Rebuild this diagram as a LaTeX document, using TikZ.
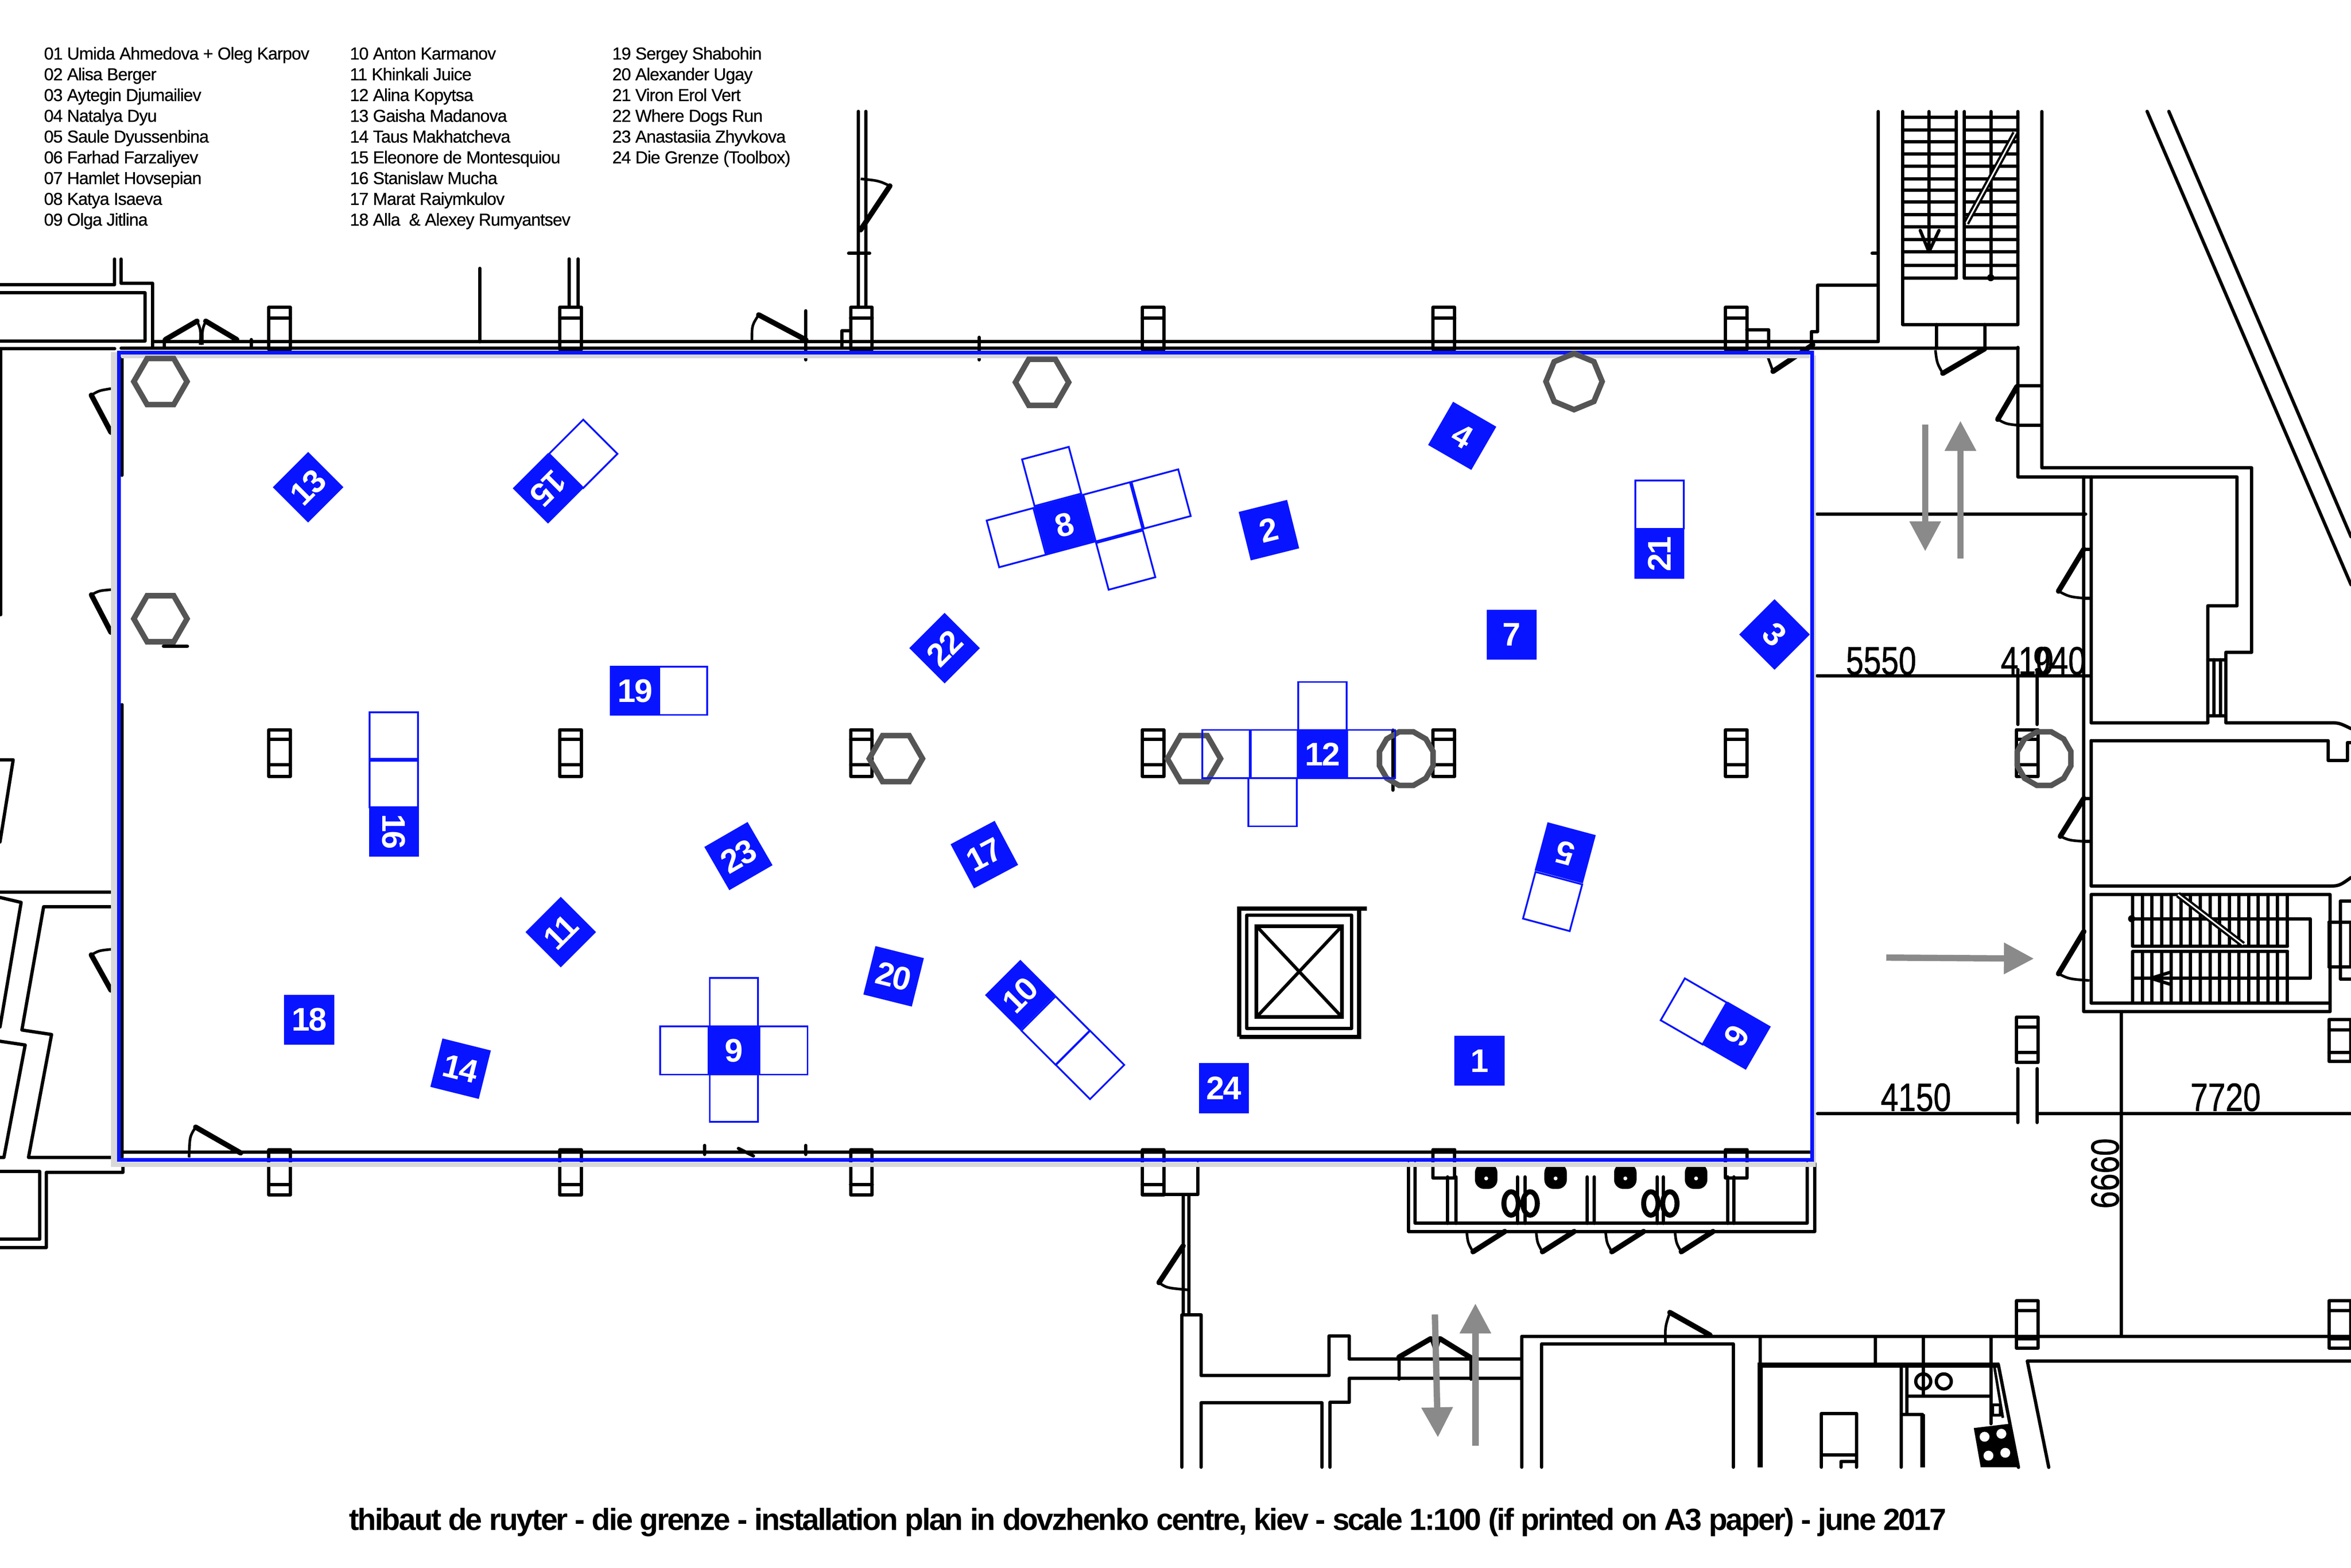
\documentclass[tikz,border=0pt]{standalone}
\usepackage{fontspec}
\setmainfont{Liberation Sans}[LetterSpace=-2.5]
\newfontfamily\namefont{Liberation Sans}[LetterSpace=-2.9,FakeBold=.5]
\newfontfamily\dimfont{Liberation Sans}[FakeBold=1]
\newfontfamily\tilefont{Liberation Sans Bold}[LetterSpace=-4]
\newfontfamily\captionfont{Liberation Sans Bold}[LetterSpace=-5.2]
\usetikzlibrary{shapes.geometric,arrows.meta}

\definecolor{tileblue}{RGB}{8,20,255}
\definecolor{shadowgrey}{RGB}{216,216,216}
\definecolor{postgrey}{RGB}{85,85,85}
\definecolor{pathgrey}{RGB}{138,138,138}

\tikzset{
	wall/.style={line width=1.25pt,line join=round,line cap=round},
	thinwall/.style={line width=1pt,line join=round},
	leaf/.style={line width=2pt,line cap=round},
	names/.style={anchor=base west,inner sep=0,font=\namefont\fontsize{6.58}{7}\selectfont},
	dimlabel/.style={inner sep=0,xscale=.8,font=\dimfont\fontsize{15}{15}\selectfont},
	tile/.style={fill=tileblue,text=white,minimum size=.666cm,inner sep=0,font=\tilefont\fontsize{12.4}{13}\selectfont},
	emptytile/.style={draw=tileblue,line width=.68pt,minimum size=.645cm,inner sep=0},
	hexpost/.style={draw=postgrey,line width=2.1pt,regular polygon,regular polygon sides=6,minimum size=.71cm,inner sep=0},
	octpost/.style={hexpost,regular polygon sides=8,shape border rotate=22.5,minimum size=.75cm},
	roundpost/.style={hexpost,regular polygon sides=12,minimum size=.74cm},
	route/.style={draw=pathgrey,line width=2.4pt,-{Triangle[length=.4cm,width=.4cm]}}
}

% door leaf and its swing
\newcommand{\doorswing}[4]{
	\draw[leaf] #1 -- #2;
	\draw[thinwall] #2 .. controls #3 .. #4;
}
% column seen from above
\newcommand{\pillar}[5]{
	\draw[wall] (#1-7.2,#2) rectangle (#1+7.2,#3);
	\draw[wall] (#1-7.2,#4) -- (#1+7.2,#4);
	\draw[wall] (#1-7.2,#5) -- (#1+7.2,#5);
}

\begin{document}
\begin{tikzpicture}[x=.02cm,y=-.02cm]
	\clip (0,0) rectangle (1568,1045.6);

	% columns
	\foreach \cx in {186.5,380.5,574.5,769,963,1158} {
		\pillar{\cx}{205}{233}{212}{212}
		\pillar{\cx}{486.7}{517.9}{493.2}{510}
	}
	\foreach \cx in {186.5,380.5,574.5,769} {
		\pillar{\cx}{767}{797}{790}{790}
	}
	\foreach \cx in {963,1158} {
		\pillar{\cx}{767}{785.7}{767}{767}
	}
	\pillar{1352}{486.7}{517.9}{493.2}{510}
	\pillar{1352}{678.4}{708.7}{685}{702}
	\pillar{1352}{867.7}{899.1}{874}{893}
	\pillar{1560.5}{680}{708}{687}{702}
	\pillar{1560.5}{867.7}{899.1}{874}{893}

	% top walls
	\draw[wall] (0,190) -- (76.4,190) -- (76.4,172.8);
	\draw[wall] (80.8,172.8) -- (80.8,189) -- (101.8,189) -- (101.8,232);
	\draw[wall] (0,195.3) -- (96.7,195.3) -- (96.7,227.4) -- (0,227.4);
	\draw[wall] (0,232.5) -- (76.5,232.5);
	\draw[wall] (.5,232.5) -- (.5,410);
	\draw[wall] (101.8,227.8) -- (1252.7,227.8);
	\draw[wall] (80.8,232.3) -- (1346,232.3);
	\draw[wall] (320,179) -- (320,228);
	\draw[wall] (379.5,172.7) -- (379.5,205);
	\draw[wall] (385.5,172.7) -- (385.5,205);
	\draw[wall] (572.5,74.3) -- (572.5,205);
	\draw[wall] (577.5,74.3) -- (577.5,205);
	\draw[wall] (566,169) -- (580,169);
	\draw[wall] (537.5,207.3) -- (537.5,240);
	\draw[wall] (561.5,232) -- (561.5,220.7) -- (567,220.7);
	\draw[wall] (653,225) -- (653,240);
	\draw[wall] (1165,220) -- (1179.5,220) -- (1179.5,232);
	\draw[wall] (109.5,226.5) -- (109.5,232);
	\draw[wall] (167.6,226.5) -- (167.6,232);
	\draw[wall] (929,487) -- (929,527);
	\draw[wall] (109,431) -- (125,431);
	\doorswing{(131.4,214.2)}{(110.3,226.5)}{(131.4,214.2)}{(110.3,226.5)}
	\doorswing{(137.2,214.2)}{(157.9,226.5)}{(137.2,214.2)}{(157.9,226.5)}
	\draw[thinwall] (131.4,214.2) .. controls (134,220) .. (133.5,230);
	\draw[thinwall] (137.2,214.2) .. controls (134.8,220) .. (135,230);
	\doorswing{(574,153.3)}{(593.5,124)}{(586,120.5)}{(574,119.3)}
	\doorswing{(537.5,226.7)}{(506,210)}{(501.5,217)}{(501.5,226.7)}
	\doorswing{(1209,230)}{(1182.5,247.7)}{(1180.5,243)}{(1179,238)}

	% right part, upper stair
	\draw[wall] (1252.7,74.4) -- (1252.7,227.3);
	\draw[wall] (1248.6,169) -- (1252.7,169);
	\draw[wall] (1252.7,190.2) -- (1212.3,190.2) -- (1212.3,221.1) -- (1208.2,221.1) -- (1208.2,231.7);
	\draw[wall] (1361.8,74.4) -- (1361.8,312) -- (1501.7,312) -- (1501.7,435.1) -- (1484.5,435.1) -- (1484.5,482.1) -- (1552.8,482.1) .. controls (1560,482.1) .. (1568,486);
	\draw[wall] (1345.9,231.7) -- (1345.9,318) -- (1492,318) -- (1492,404.1) -- (1472.4,404.1) -- (1472.4,482.1) -- (1394.7,482.1) -- (1394.7,318);
	\draw[wall] (1389.8,318) -- (1389.8,674.7) -- (1554,674.7) -- (1554,669);
	\draw[wall] (1268.9,74.4) -- (1268.9,216.4) -- (1345.9,216.4) -- (1345.9,74.4);
	\foreach \sy in {78.2,86.7,94.5,102.6,110.7,119.2,126.9,134.7,143,151.4,159.7,167.8,177,185.5} {
		\draw[wall] (1268.9,\sy) -- (1304.8,\sy);
		\draw[wall] (1310.2,\sy) -- (1345.9,\sy);
	}
	\draw[wall] (1304.8,74.4) -- (1304.8,185.5);
	\draw[wall] (1310.2,74.4) -- (1310.2,185.5);
	\draw[wall] (1286.5,74.4) -- (1286.5,168);
	\draw[wall] (1327.8,74.4) -- (1327.8,185.5);
	\fill (1327.7,185.2) circle (2.4);
	\draw[wall] (1280.7,153.7) -- (1286.5,168) -- (1293.2,153.7);
	\draw[line width=2.3pt] (1344,88.8) -- (1311.4,148.8);
	\draw[white,line width=.6pt] (1344,88.8) -- (1311.4,148.8);
	\draw[wall] (1291.6,216.4) -- (1291.6,232);
	\draw[wall] (1323.7,216.4) -- (1323.7,232);
	\doorswing{(1323.7,232.6)}{(1295.7,249)}{(1291.8,242)}{(1290.8,233.5)}
	\draw[wall] (1346,257.3) -- (1361.8,257.3);
	\draw[wall] (1346,283.7) -- (1361.8,283.7);
	\doorswing{(1345.2,257.8)}{(1332.4,279.7)}{(1338,282.8)}{(1346.4,283.7)}
	\draw[wall] (1432,74.3) -- (1568,390);
	\draw[wall] (1446.5,74.3) -- (1568,358);

	% right part, rooms
	\draw[wall] (1472.4,440) -- (1483.8,440);
	\draw[wall] (1472.4,477.5) -- (1483.8,477.5);
	\draw[wall] (1476.5,440) -- (1476.5,477.5);
	\draw[wall] (1480.8,440) -- (1480.8,477.5);
	\draw[wall] (1394.7,494) -- (1552.8,494) -- (1552.8,507.3) -- (1565.6,507.3) -- (1565.6,495.2) -- (1568,495.2);
	\draw[wall] (1394.7,494) -- (1394.7,591) -- (1551.6,591) .. controls (1560,591) .. (1568,585.3);
	\draw[wall] (1389.8,366.3) -- (1394.7,366.3);
	\draw[wall] (1389.8,399) -- (1394.7,399);
	\doorswing{(1389.8,366.3)}{(1372.9,394.3)}{(1380,398)}{(1389.8,399)}
	\draw[wall] (1389.8,532.5) -- (1394.7,532.5);
	\draw[wall] (1389.8,561.2) -- (1394.7,561.2);
	\doorswing{(1389.8,532.5)}{(1374.1,557.8)}{(1380,560.5)}{(1389.8,561.2)}
	\doorswing{(1389.8,621.3)}{(1372.9,649.5)}{(1380,653)}{(1393.5,654)}

	% right part, lower stair
	\draw[wall] (1394.7,596.7) rectangle (1554,669);
	\foreach \sx in {1422.4,1428.84,...,1526} {
		\draw[wall] (\sx,596.7) -- (\sx,631.1);
		\draw[wall] (\sx,634.6) -- (\sx,669);
	}
	\draw[wall] (1423,631.1) -- (1525.6,631.1);
	\draw[wall] (1423,634.6) -- (1525.6,634.6);
	\draw[wall] (1422.4,612.8) -- (1540.8,612.8) -- (1540.8,652.5) -- (1422.4,652.5);
	\fill (1421.7,612.8) circle (2.4);
	\draw[line width=2.3pt] (1452.6,596.7) -- (1496,630);
	\draw[white,line width=.6pt] (1452.6,596.7) -- (1496,630);
	\draw[wall] (1447.7,648.4) -- (1434.5,652.5) -- (1447.7,656.6);
	\pillar{1560.5}{615}{645}{615}{645}
	\draw[wall] (1561,601) -- (1568,601);
	\draw[wall] (1561,653) -- (1568,653);
	\draw[wall] (1561,601) -- (1561,653);

	% dimension lines
	\draw[wall] (1211.9,342.9) -- (1391,342.9);
	\draw[wall] (1211.9,450.7) -- (1394.7,450.7);
	\draw[wall] (1345.9,446.6) -- (1345.9,483.2);
	\draw[wall] (1358.5,446.6) -- (1358.5,483.2);
	\draw[wall] (1212.2,742.9) -- (1345.7,742.9);
	\draw[wall] (1358.6,742.9) -- (1568,742.9);
	\draw[wall] (1345.7,712.8) -- (1345.7,748.7);
	\draw[wall] (1358.6,712.8) -- (1358.6,748.7);
	\draw[wall] (1414.8,674.7) -- (1414.8,891.4);
	\node[dimlabel] (dimA) at (1254.6,440.8) {5550};
	\node[dimlabel] (dimB) at (1352,440.8) {410};
	\node[dimlabel] (dimC) at (1373.5,440.8) {940};
	\node[dimlabel] (dimD) at (1277.8,731.9) {4150};
	\node[dimlabel] (dimE) at (1484.3,731.9) {7720};
	\node[rotate=90,dimlabel] (dimF) at (1404,782.7) {6660};

	% left walls
	\draw[wall] (0,595) -- (74,595);
	\draw[wall] (74,604.8) -- (29.1,604.8) -- (14.6,687) -- (34.4,690) -- (19,772) -- (74,772);
	\draw[wall] (0,598.6) -- (14.1,601.9) -- (0,685);
	\draw[wall] (0,694.5) -- (16.8,697) -- (2.6,772) -- (0,772);
	\draw[wall] (0,506.8) -- (8.8,506.8) -- (0,561.6);
	\draw[wall] (82,778) -- (82,782) -- (30.9,782) -- (30.9,832) -- (0,832);
	\draw[wall] (0,781.4) -- (26.5,781.4) -- (26.5,826.6) -- (0,826.6);
	\doorswing{(74,288.3)}{(60.9,263.6)}{(66,260.5)}{(74,259.2)}
	\doorswing{(74,421.7)}{(61,396.7)}{(66,394)}{(74,393.3)}
	\doorswing{(74,660.4)}{(60.9,636.9)}{(66,634)}{(74,633.2)}
	\draw[wall] (81.3,239) -- (81.3,317);
	\draw[wall] (81.3,470) -- (81.3,772);

	% bottom walls
	\draw[wall] (82,768.5) -- (1208,768.5);
	\draw[wall] (470,764) -- (470,770);
	\draw[wall] (537.5,764) -- (537.5,770);
	\draw[wall] (492.5,766) -- (502.5,771);
	\doorswing{(160.5,769)}{(130.5,751.8)}{(126.5,758)}{(126.1,772)}
	\draw[wall] (776.4,776) -- (776.4,796.8);
	\draw[wall] (762,796.8) -- (799,796.8) -- (799,776);
	\draw[wall] (789.1,796.8) -- (789.1,877);
	\draw[wall] (792.8,796.8) -- (792.8,877);
	\doorswing{(789.1,831)}{(773,855.5)}{(778,859)}{(792,860.3)}
	\draw[wall] (789,877) -- (801,877) -- (801,917.5) -- (886.5,917.5) -- (886.5,891) -- (900,891) -- (900,906.4) -- (1014.3,906.4);
	\draw[wall] (788.3,877) -- (788.3,978.6);
	\draw[wall] (801,978.6) -- (801,935.7) -- (881.7,935.7) -- (881.7,978.6);
	\draw[wall] (887,978.6) -- (887,935.4) -- (900,935.4) -- (900,919.4) -- (1014.9,919.4);
	\draw[wall] (1014.9,978.6) -- (1014.9,891.3) -- (1568,891.3);
	\draw[wall] (1028.2,978.6) -- (1028.2,896.4) -- (1156,896.4) -- (1156,978.6);
	\draw[wall] (933,905.6) -- (933,919.9);
	\draw[wall] (981,905.6) -- (981,919.9);
	\doorswing{(933,905.2)}{(954.2,892.9)}{(957,900)}{(957,912)}
	\doorswing{(981,905.6)}{(960.4,892.9)}{(958,900)}{(958,912)}
	\doorswing{(1140.5,890.5)}{(1113.7,875.4)}{(1110.5,885)}{(1110.8,896.8)}

	% toilets
	\draw[wall] (939.5,776) -- (939.5,821.4) -- (1210.4,821.4) -- (1210.4,776);
	\draw[wall] (943.8,776) -- (943.8,815.9) -- (1205.2,815.9) -- (1205.2,776);
	\foreach \wx in {965.5,971.1,1012,1017,1058.6,1063.4,1105.2,1109.4,1152.3,1156.5} {
		\draw[wall] (\wx,785) -- (\wx,816);
	}
	\foreach \tx in {991.2,1037.5,1084,1131.2} {
		\fill[rounded corners=3.5pt] (\tx-7.5,776) rectangle (\tx+7.5,793);
		\fill[white] (\tx,786) circle (1.3);
	}
	\foreach \sx in {1007.8,1020.5,1101,1113.7} {
		\draw[line width=1.9pt] (\sx,802.7) ellipse (4.8 and 7.8);
	}
	\foreach \dx in {0,46.3,92.6,138.9} {
		\doorswing{(1003.6+\dx,821.4)}{(982.4+\dx,834.9)}{(979+\dx,829)}{(978.2+\dx,821.4)}
	}

	% bottom right rooms
	\draw[line width=1.9pt] (1173.9,978.6) -- (1173.9,910.5) -- (1332.7,910.5);
	\draw[wall] (1173.9,891.4) -- (1173.9,910);
	\draw[wall] (1250.8,891.4) -- (1250.8,910);
	\draw[wall] (1282.7,891.4) -- (1282.7,931);
	\draw[wall] (1327.8,891.4) -- (1327.8,949.6);
	\draw[wall] (1332.7,909.8) -- (1346.2,978.7);
	\draw[thinwall] (1330,910.8) -- (1335.8,945.7);
	\draw[thinwall] (1329,937) rectangle (1334,944);
	\draw[wall] (1271.8,931.3) -- (1327.8,931.3);
	\draw[wall] (1267.9,910) -- (1267.9,978.6);
	\draw[wall] (1271.8,910) -- (1271.8,943.4);
	\draw[wall] (1268,943.4) -- (1282.2,943.4);
	\draw[line width=1.8pt] (1282.2,943.4) -- (1282.2,978.6);
	\draw[wall] (1282.7,921.4) circle (5);
	\draw[wall] (1296.4,921.4) circle (5);
	\draw[wall] (1214.8,978.6) -- (1214.8,942.8) -- (1238.1,942.8) -- (1238.1,978.6);
	\draw[wall] (1214.8,970.5) -- (1238.1,970.5);
	\draw[wall] (1227.8,978.6) -- (1227.8,974.8) -- (1238.1,974.8);
	\fill (1316.4,952.5) -- (1340.5,949.6) -- (1347,978.6) -- (1321,978.6) -- cycle;
	\foreach \hx/\hy in {1323.6/958.3,1334.8/956.3,1326.2/970.9,1337.4/969} {
		\fill[white] (\hx,\hy) circle (3.3);
	}
	\draw[wall] (1366.4,978.7) -- (1352.1,907.8) -- (1568,907.8);

	% lift
	\draw[line width=1.6pt] (826.5,691.5) -- (826.5,606) -- (911.5,606);
	\draw[line width=1.6pt] (826.5,691.5) -- (906.5,691.5) -- (906.5,606);
	\draw[wall] (831.5,610.4) rectangle (901.5,686);
	\draw[line width=1.4pt] (838,617.7) rectangle (895,678.4);
	\draw[wall] (838,617.7) -- (895,678.4);
	\draw[wall] (895,617.7) -- (838,678.4);

	% shadow and outline of the hall
	\fill[shadowgrey] (74,235) rectangle (78,778.4);
	\fill[shadowgrey] (74,775.2) rectangle (1211,778.4);
	\fill[shadowgrey] (1209.8,237) rectangle (1211,778.4);
	\fill[shadowgrey] (81,236.5) rectangle (1207,239);
	\draw[tileblue,line width=1.42pt] (79.3,235.2) rectangle (1208.5,773.5);

	% posts
	\node[hexpost] (postA) at (107,254.5) {};
	\node[hexpost] (postB) at (695,255) {};
	\node[hexpost] (postC) at (107,412.7) {};
	\node[hexpost] (postD) at (597.5,506) {};
	\node[hexpost] (postE) at (796.3,506) {};
	\node[octpost] (postF) at (1049.8,254.5) {};
	\node[roundpost] (postG) at (937.9,506) {};
	\node[roundpost] (postH) at (1363.3,506) {};

	% routes through the building
	\coordinate (routeAs) at (1284,283.3);
	\coordinate (routeAe) at (1284,367.7);
	\coordinate (routeBs) at (1307.5,372.7);
	\coordinate (routeBe) at (1307.5,280.7);
	\coordinate (routeCs) at (1258,638.7);
	\coordinate (routeCe) at (1356.5,639.4);
	\coordinate (routeDs) at (957,876.7);
	\coordinate (routeDe) at (959,958.7);
	\coordinate (routeEs) at (984,964.4);
	\coordinate (routeEe) at (984,869.4);
	\draw[route] (routeAs) -- (routeAe);
	\draw[route] (routeBs) -- (routeBe);
	\draw[route] (routeCs) -- (routeCe);
	\draw[route] (routeDs) -- (routeDe);
	\draw[route] (routeEs) -- (routeEe);

	% empty tiles
	\node[emptytile,rotate=45] (e15) at (389,302.7) {};
	\node[emptytile,rotate=15] (e8a) at (701.4,317.8) {};
	\node[emptytile,rotate=15] (e8b) at (677.8,358.6) {};
	\node[emptytile,rotate=15] (e8c) at (742.2,341.4) {};
	\node[emptytile,rotate=15] (e8d) at (774.4,332.8) {};
	\node[emptytile,rotate=15] (e8e) at (750.8,373.6) {};
	\node[emptytile] (e21) at (1106.8,336.5) {};
	\node[emptytile] (e19) at (455.5,460.7) {};
	\node[emptytile] (e12a) at (882,471) {};
	\node[emptytile] (e12b) at (914.5,503) {};
	\node[emptytile] (e12c) at (849.5,503) {};
	\node[emptytile] (e12d) at (818,503) {};
	\node[emptytile] (e12e) at (848.7,535) {};
	\node[emptytile] (e16a) at (262.7,491.2) {};
	\node[emptytile] (e16b) at (262.7,522.2) {};
	\node[emptytile,rotate=-15] (e5) at (1035.5,601.3) {};
	\node[emptytile,rotate=-30] (e6) at (1129.6,674.6) {};
	\node[emptytile] (e9a) at (489.5,668.5) {};
	\node[emptytile] (e9b) at (456.5,700.6) {};
	\node[emptytile] (e9c) at (522.5,700.6) {};
	\node[emptytile] (e9d) at (489.5,732) {};
	\node[emptytile,rotate=45] (e10a) at (704,687.4) {};
	\node[emptytile,rotate=45] (e10b) at (727,710.3) {};

	% numbered tiles
	\node[tile] (t1) at (986.75,707.6) {1};
	\node[tile,rotate=14] (t2) at (846.3,353.6) {2};
	\node[tile,rotate=-45] (t3) at (1183.5,423.2) {3};
	\node[tile,rotate=-30] (t4) at (975.2,290.7) {4};
	\node[tile,rotate=165] (t5) at (1043.9,568.8) {5};
	\node[tile,rotate=-120] (t6) at (1158.3,690.8) {6};
	\node[tile] (t7) at (1008.3,423.3) {7};
	\node[tile,rotate=15] (t8) at (710,350) {8};
	\node[tile] (t9) at (489.5,700.6) {9};
	\node[tile,rotate=45] (t10) at (680.5,663.7) {10};
	\node[tile,rotate=45] (t11) at (374,621.7) {11};
	\node[tile] (t12) at (882,503) {12};
	\node[tile,rotate=45] (t13) at (205.5,325) {13};
	\node[tile,rotate=-14] (t14) at (307.2,712.8) {14};
	\node[tile,rotate=225] (t15) at (365.5,325.7) {15};
	\node[tile,rotate=-90] (t16) at (262.7,554.7) {16};
	\node[tile,rotate=28] (t17) at (656.5,570) {17};
	\node[tile] (t18) at (206.2,680.2) {18};
	\node[tile] (t19) at (423.5,460.7) {19};
	\node[tile,rotate=-14] (t20) at (596,651.2) {20};
	\node[tile,rotate=90] (t21) at (1106.8,369.4) {21};
	\node[tile,rotate=45] (t22) at (630,432.3) {22};
	\node[tile,rotate=30] (t23) at (492.5,571) {23};
	\node[tile] (t24) at (816.2,725.8) {24};

	% list of artists
	\node[names] (n01) at (29,39.7) {01 Umida Ahmedova + Oleg Karpov};
	\node[names] (n02) at (29,53.55) {02 Alisa Berger};
	\node[names] (n03) at (29,67.4) {03 Aytegin Djumailiev};
	\node[names] (n04) at (29,81.25) {04 Natalya Dyu};
	\node[names] (n05) at (29,95.1) {05 Saule Dyussenbina};
	\node[names] (n06) at (29,108.95) {06 Farhad Farzaliyev};
	\node[names] (n07) at (29,122.8) {07 Hamlet Hovsepian};
	\node[names] (n08) at (29,136.65) {08 Katya Isaeva};
	\node[names] (n09) at (29,150.5) {09 Olga Jitlina};
	\node[names] (n10) at (233,39.7) {10 Anton Karmanov};
	\node[names] (n11) at (233,53.55) {11 Khinkali Juice};
	\node[names] (n12) at (233,67.4) {12 Alina Kopytsa};
	\node[names] (n13) at (233,81.25) {13 Gaisha Madanova};
	\node[names] (n14) at (233,95.1) {14 Taus Makhatcheva};
	\node[names] (n15) at (233,108.95) {15 Eleonore de Montesquiou};
	\node[names] (n16) at (233,122.8) {16 Stanislaw Mucha};
	\node[names] (n17) at (233,136.65) {17 Marat Raiymkulov};
	\node[names] (n18) at (233,150.5) {18 Alla\ \ \& Alexey Rumyantsev};
	\node[names] (n19) at (408,39.7) {19 Sergey Shabohin};
	\node[names] (n20) at (408,53.55) {20 Alexander Ugay};
	\node[names] (n21) at (408,67.4) {21 Viron Erol Vert};
	\node[names] (n22) at (408,81.25) {22 Where Dogs Run};
	\node[names] (n23) at (408,95.1) {23 Anastasiia Zhyvkova};
	\node[names] (n24) at (408,108.95) {24 Die Grenze (Toolbox)};

	\node[inner sep=0,font=\captionfont\fontsize{11.6}{12}\selectfont] (caption) at (765.5,1015.5) {thibaut de ruyter - die grenze - installation plan in dovzhenko centre, kiev - scale 1:100 (if printed on A3 paper) - june 2017};
\end{tikzpicture}
\end{document}
